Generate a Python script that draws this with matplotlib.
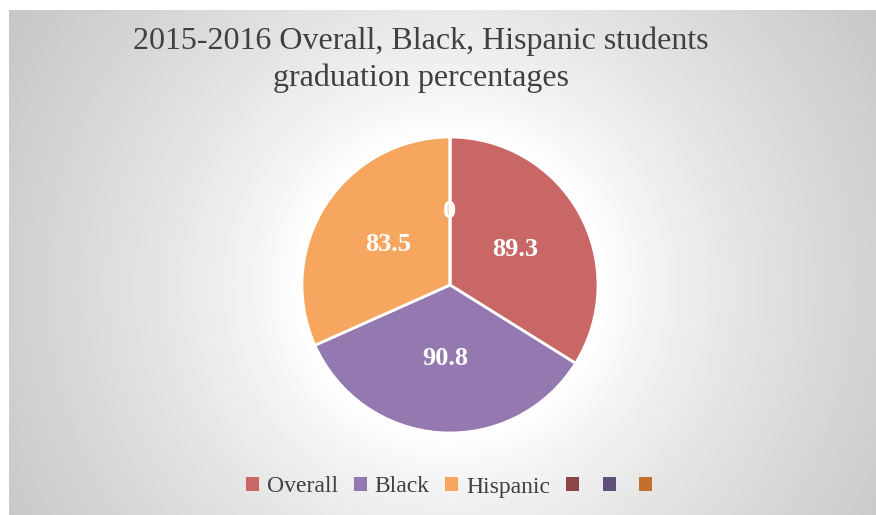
import numpy as np
import matplotlib
matplotlib.use('Agg')
import matplotlib.pyplot as plt
from matplotlib.patches import Rectangle

categories = ['Overall', 'Black', 'Hispanic', '']
valeurs = [89.3, 90.8, 83.5, 0]
couleurs = ['#C96767', '#9479B0', '#F7A660', '#C96767']
legende_noms = ['Overall', 'Black', 'Hispanic', '', '', '']
legende_couleurs = ['#C96767', '#9479B0', '#F7A660', '#8C4646', '#5F4F7B', '#C2702D']
titre = '2015-2016 Overall, Black, Hispanic students\ngraduation percentages'

W, H = 876, 515
fig = plt.figure(figsize=(W / 100, H / 100), dpi=100)
fig.patch.set_facecolor('white')

# fond gris en degrade radial
fond = fig.add_axes([9 / W, 0, (W - 9) / W, (H - 10) / H])
fond.set_axis_off()
xx, yy = np.meshgrid(np.arange(9, W), np.arange(10, H))
d = np.sqrt((xx - 450) ** 2 + (yy - 285) ** 2)
t = np.clip((d - 150) / 380, 0, 1)
gris = 1.0 - 0.23 * t ** 0.8
fond.imshow(gris, cmap='gray', vmin=0, vmax=1, aspect='auto',
            extent=[0, 1, 0, 1], interpolation='bilinear')
fond.set_xlim(0, 1)
fond.set_ylim(0, 1)

# camembert
r = 148
cx, cy = 450, H - 285
ax = fig.add_axes([(cx - r) / W, (cy - r) / H, 2 * r / W, 2 * r / H])
wedges, textes = ax.pie(valeurs, colors=couleurs, startangle=90, counterclock=False,
                        labels=[str(v) if v != 0 else '0' for v in valeurs],
                        labeldistance=0.5, radius=1,
                        wedgeprops=dict(edgecolor='white', linewidth=2))
for tx in textes:
    tx.set_color('white')
    tx.set_fontsize(19)
    tx.set_fontweight('bold')
    tx.set_family('Liberation Serif')
    tx.set_ha('center')
    tx.set_va('center')
ax.set_xlim(-1.0, 1.0)
ax.set_ylim(-1.0, 1.0)
ax.set_axis_off()

fig.text(421 / W, 1 - 60 / H, titre, ha='center', va='center', fontsize=23,
         family='Liberation Serif', color='#404040', linespacing=1.32)

poignees = [Rectangle((0, 0), 1, 1, facecolor=c, edgecolor='none') for c in legende_couleurs]
fig.legend(poignees, legende_noms, loc='center', bbox_to_anchor=(453 / W, 1 - 487 / H),
           ncol=6, frameon=False, handlelength=0.55, handleheight=0.55, handletextpad=0.32,
           columnspacing=0.68, prop={'family': 'Liberation Serif', 'size': 17},
           labelcolor='#404040')

fig.savefig('out.png', dpi=100)
